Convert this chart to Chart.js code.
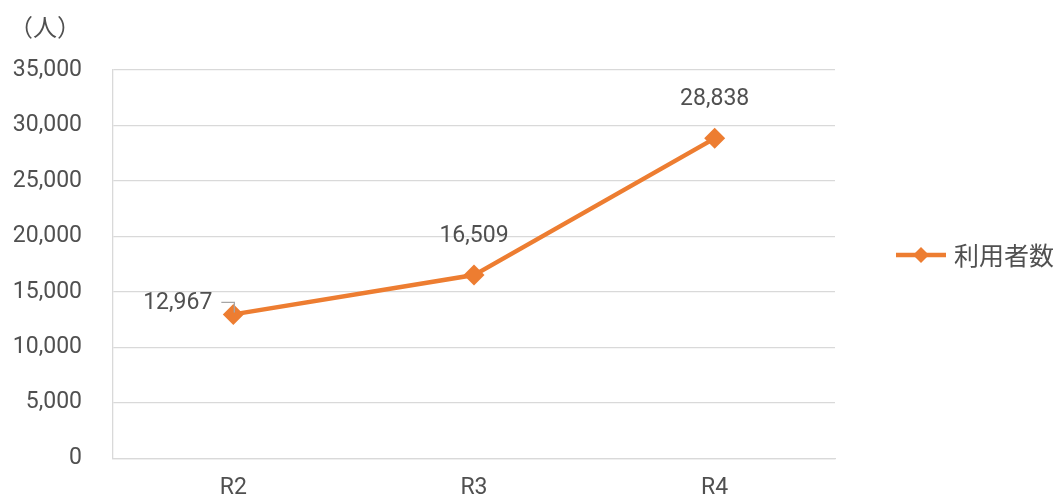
<!DOCTYPE html>
<html>
<head>
<meta charset="utf-8">
<script src="https://cdn.jsdelivr.net/npm/chart.js@4/dist/chart.umd.min.js"></script>
<style>
  html, body { margin: 0; padding: 0; background: #fff; }
  #wrap { width: 1063px; height: 503px; }
</style>
</head>
<body>
<div id="wrap"><canvas id="lineChart"></canvas></div>
<script>
// 利用者数の推移
const years = ["R2", "R3", "R4"];
const users = [12967, 16509, 28838];
const seriesName = "利用者数";
const unitLabel = "（人）";

const FONT = "Roboto, 'Noto Sans CJK JP', sans-serif";
const JP_FONT = "'Noto Sans CJK JP', sans-serif";
const TEXT = "#505050";
const ORANGE = "#ED7D31";

// value labels, unit title and legend drawn on the canvas
const extras = {
    id: "extras",
    afterDatasetsDraw(chart) {
        const ctx = chart.ctx;
        const area = chart.chartArea;
        const meta = chart.getDatasetMeta(0);
        ctx.save();
        ctx.font = "23px " + FONT;
        ctx.fillStyle = TEXT;
        ctx.textBaseline = "middle";
        meta.data.forEach(function (pt, i) {
            let txt = users[i].toLocaleString("en-US");
            if (i === 0) {
                // label to the left with a small leader line
                ctx.textAlign = "right";
                ctx.fillText(txt, pt.x - 21, pt.y - 11);
                ctx.strokeStyle = "#a6a6a6";
                ctx.lineWidth = 1.3;
                ctx.beginPath();
                ctx.moveTo(pt.x - 12, pt.y - 12);
                ctx.lineTo(pt.x + 1, pt.y - 12);
                ctx.lineTo(pt.x + 1, pt.y - 2);
                ctx.stroke();
            } else {
                ctx.textAlign = "center";
                ctx.fillText(txt, pt.x, pt.y - 39);
            }
        });

        // unit title
        ctx.font = "24px " + JP_FONT;
        ctx.textAlign = "center";
        ctx.fillText(unitLabel, area.left - 68, 27);

        // legend
        const lx = area.right + 61;
        const ly = (area.top + area.bottom) / 2 - 9;
        ctx.strokeStyle = ORANGE;
        ctx.lineWidth = 4.5;
        ctx.beginPath();
        ctx.moveTo(lx, ly);
        ctx.lineTo(lx + 50, ly);
        ctx.stroke();
        ctx.fillStyle = ORANGE;
        ctx.beginPath();
        ctx.moveTo(lx + 25, ly - 8);
        ctx.lineTo(lx + 33, ly);
        ctx.lineTo(lx + 25, ly + 8);
        ctx.lineTo(lx + 17, ly);
        ctx.closePath();
        ctx.fill();
        ctx.fillStyle = TEXT;
        ctx.textAlign = "left";
        ctx.font = "25px " + JP_FONT;
        ctx.fillText(seriesName, lx + 58, ly);
        ctx.restore();
    }
};

new Chart(document.getElementById("lineChart"), {
    type: "line",
    data: {
        labels: years,
        datasets: [{
            label: seriesName,
            data: users,
            borderColor: ORANGE,
            backgroundColor: ORANGE,
            borderWidth: 4.5,
            tension: 0,
            fill: false,
            pointStyle: "rectRot",
            pointRadius: 10.5,
            pointHoverRadius: 10.5,
            pointBorderWidth: 0,
            pointBackgroundColor: ORANGE
        }]
    },
    options: {
        responsive: true,
        maintainAspectRatio: false,
        animation: false,
        layout: { padding: { top: 70, right: 228, bottom: 0, left: 0 } },
        plugins: {
            legend: { display: false },
            tooltip: { enabled: false }
        },
        scales: {
            x: {
                offset: true,
                grid: { display: false, drawTicks: false },
                border: { display: true, color: "#d9d9d9", width: 1.3 },
                ticks: {
                    color: TEXT,
                    font: { family: FONT, size: 23 },
                    padding: 16
                },
                afterFit(scale) { scale.height = 37; }
            },
            y: {
                min: 0,
                max: 35000,
                grid: { color: "#d9d9d9", lineWidth: 1.3, drawTicks: false },
                border: { display: true, color: "#d9d9d9", width: 1.3 },
                ticks: {
                    stepSize: 5000,
                    color: TEXT,
                    font: { family: FONT, size: 23 },
                    padding: 31,
                    callback: function (v) { return v.toLocaleString("en-US"); }
                },
                afterFit(scale) { scale.width = 113; }
            }
        }
    },
    plugins: [extras]
});
</script>
</body>
</html>
